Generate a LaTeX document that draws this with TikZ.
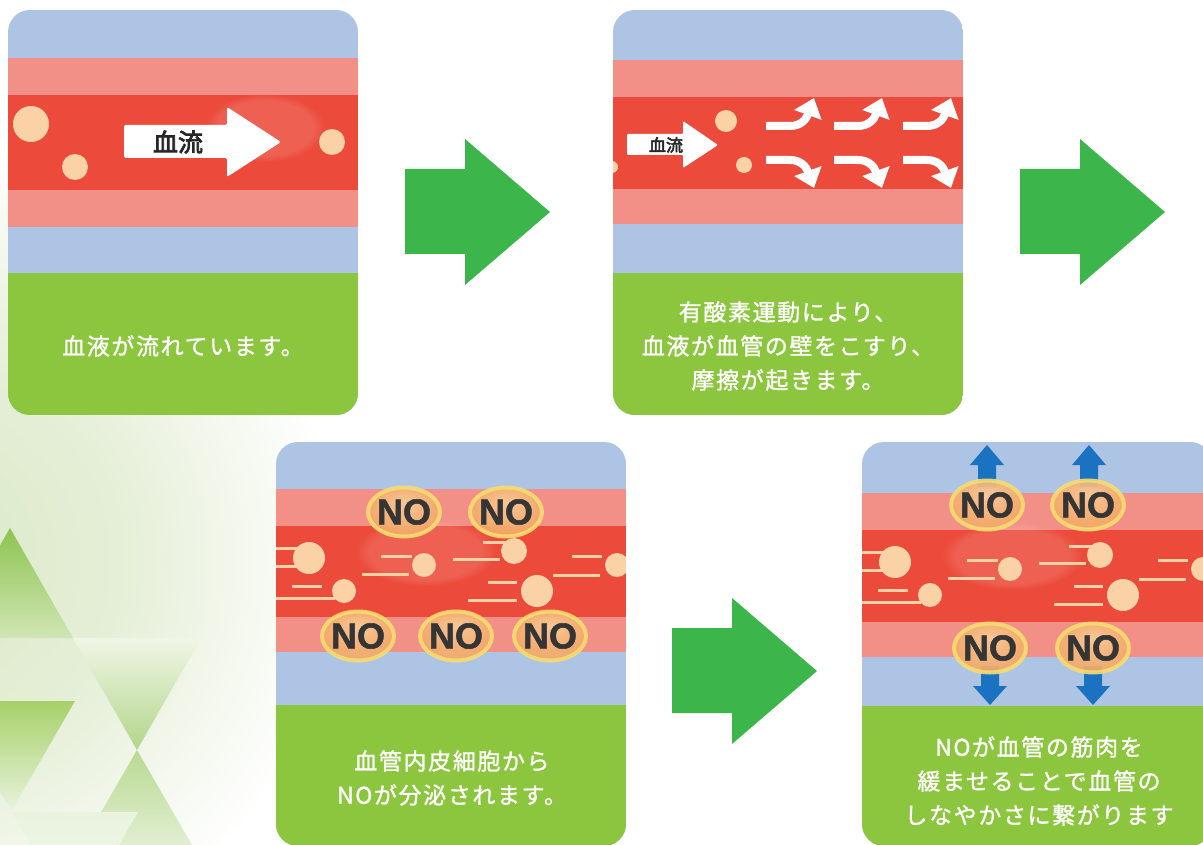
\documentclass[tikz,border=0pt]{standalone}
\usepackage{fontspec}
\usetikzlibrary{shapes.geometric,arrows.meta,fadings}
\newfontfamily\jpfont{Noto Sans CJK JP}[FakeBold=1.2, LetterSpace=7]
\newfontfamily\jpboldfont{Noto Sans CJK JP}[FakeBold=3]
\newfontfamily\labelfont{Liberation Sans}[FakeBold=1.5]

\definecolor{vesselblue}{HTML}{AEC4E4}
\definecolor{wallred}{HTML}{F2877E}
\definecolor{bloodred}{HTML}{EC4B3B}
\definecolor{panelgreen}{HTML}{8CC63F}
\definecolor{cellpeach}{HTML}{FBD2A6}
\definecolor{arrowgreen}{HTML}{3CB54A}
\definecolor{pushblue}{HTML}{1B72C0}
\definecolor{notext}{HTML}{353535}
\definecolor{norim}{HTML}{F6DC72}
\definecolor{nolight}{HTML}{F9CC9A}
\definecolor{nomid}{HTML}{F4AE6E}
\definecolor{nodark}{HTML}{EF9A55}
\definecolor{glowgreen}{HTML}{DAE8C6}

\pgfdeclareradialshading{leftglow}{\pgfpoint{0bp}{0bp}}{color(0bp)=(glowgreen); color(12bp)=(glowgreen!70!white); color(25bp)=(white); color(50bp)=(white)}
\pgfdeclareradialshading{noglow}{\pgfpoint{0bp}{10bp}}{color(0bp)=(nolight); color(22bp)=(nomid); color(50bp)=(nodark)}

% vessel panel: x0 y0 x1 y1, then the y of the five band boundaries
\newcommand\panelbase[9]{%
  \begin{scope}
    \clip[rounded corners=22pt] (#1,#2) rectangle (#3,#4);
    \fill[vesselblue] (#1,#2) rectangle (#3,#4);
    \fill[wallred] (#1,#5) rectangle (#3,#8);
    \fill[bloodred] (#1,#6) rectangle (#3,#7);
    \fill[white, opacity=0.07] (#1,#5) rectangle (#3,#6);
    \fill[white, opacity=0.07] (#1,#7) rectangle (#3,#8);
    \fill[panelgreen] (#1,#9) rectangle (#3,#4);
  \end{scope}}

% moving blood cells with speed lines, relative to a panel corner
\newcommand\flowcells[2]{%
  \begin{scope}[shift={(#1,#2)}]
    \fill[white, fill opacity=0.12, path fading=circle with fuzzy edge 20 percent]
      (150,110) ellipse[x radius=70pt, y radius=34pt];
    \foreach \ya/\xa/\xb in {106/0/24, 124/0/24, 144/16/46, 156/0/59,
        114/105/136, 132/86/133, 100/207/231, 117/177/224,
        140/212/241, 158/192/241, 114/296/326, 133/277/324}
      \draw[speedline] (\xa,\ya) -- (\xb,\ya);
    \foreach \cx/\cy/\cr in {33/116/16, 68/149/12, 148/123/12,
        238/109/13, 261/149/16, 341/123/12}
      \fill[cellpeach] (\cx,\cy) circle[radius=\cr pt];
  \end{scope}}

\begin{document}
\begin{tikzpicture}[x=1pt,y=-1pt,
  caption/.style={font=\jpfont\fontsize{23}{34}\selectfont, text=white, align=center, inner sep=0pt},
  flowtag/.style={font=\jpboldfont\fontsize{#1}{#1}\selectfont, text=black!85, inner sep=0pt},
  speedline/.style={cellpeach, line width=3pt},
  flowturn/.style={white, line width=8pt, -{Triangle[length=18pt,width=28pt]}},
  noblob/.style={ellipse, minimum width=72pt, minimum height=49pt, inner sep=0pt,
    draw=norim, line width=4pt, draw opacity=0.9, shade, shading=noglow, fill opacity=0.93},
  notag/.style={inner sep=0pt, font=\labelfont\bfseries\fontsize{36}{36}\selectfont, text=notext},
  bigarrow/.pic={\fill[arrowgreen] (0,30) -- (60,30) -- (60,0) -- (145,73) -- (60,146)
      -- (60,115) -- (0,115) -- cycle;},
  pushup/.pic={\fill[pushblue] (-9,42) -- (-9,20) -- (-17,20) -- (0,0) -- (17,20)
      -- (9,20) -- (9,42) -- cycle;},
  pushdown/.pic={\fill[pushblue] (-9,-4) -- (-9,16) -- (-17,16) -- (0,35) -- (17,16)
      -- (9,16) -- (9,-4) -- cycle;}
]
\useasboundingbox (0,0) rectangle (1203,845);
\clip (0,0) rectangle (1203,845);
\fill[white] (0,0) rectangle (1203,845);

% soft green glow and triangle pattern at the lower left
\shade[shading=leftglow] (-80,560) circle[radius=420pt];
\shade[top color={rgb,255:red,141;green,196;blue,80}, bottom color={rgb,255:red,208;green,229;blue,180}]
  (10,528) -- (73,638) -- (-53,638) -- cycle;
\shade[top color={rgb,255:red,240;green,246;blue,230}, bottom color={rgb,255:red,179;green,213;blue,138}]
  (73,638) -- (201,638) -- (137,750) -- cycle;
\shade[top color={rgb,255:red,166;green,209;blue,104}, bottom color={rgb,255:red,232;green,242;blue,220}]
  (-60,701) -- (75,701) -- (12,810) -- cycle;
\shade[top color={rgb,255:red,185;green,218;blue,146}, bottom color={rgb,255:red,225;green,238;blue,209}]
  (137,750) -- (192,845) -- (82,845) -- cycle;
\shade[top color={rgb,255:red,233;green,243;blue,222}, bottom color={rgb,255:red,245;green,250;blue,239}]
  (12,812) -- (138,812) -- (75,921) -- cycle;

% panel 1: blood flow
\panelbase{8}{10}{358}{415}{58}{95}{190}{227}{273}
\begin{scope}
  \clip[rounded corners=22pt] (8,10) rectangle (358,415);
  \fill[white, fill opacity=0.12, path fading=circle with fuzzy edge 20 percent]
    (265,128) ellipse[x radius=60pt, y radius=34pt];
  \foreach \cx/\cy/\cr in {31/124/18, 75/167/13, 332/142/13}
    \fill[cellpeach] (\cx,\cy) circle[radius=\cr pt];
  \fill[white, rounded corners=1.5pt] (124,125) -- (227,125) -- (227,107) -- (281,142)
    -- (227,177) -- (227,158) -- (124,158) -- cycle;
\end{scope}
\node[flowtag=25] (flow1) at (178,142) {血流};
\node[caption] (text1) at (183,346) {血液が流れています。};

% panel 2: friction on the vessel wall
\panelbase{613}{10}{963}{415}{60}{97}{189}{224}{273}
\begin{scope}
  \clip[rounded corners=22pt] (613,10) rectangle (963,415);
  \foreach \cx/\cy/\cr in {726/121/11, 744/165/8, 612/167/6}
    \fill[cellpeach] (\cx,\cy) circle[radius=\cr pt];
  \fill[white, rounded corners=1pt] (627,134) -- (683,134) -- (683,121) -- (718,145)
    -- (683,168) -- (683,155) -- (627,155) -- cycle;
  \foreach \x in {766,834,903} {
    \draw[flowturn] (\x,126) -- (\x+24,126) .. controls (\x+34,126) and (\x+40,120) .. (\x+48,98);
    \draw[flowturn] (\x,160) -- (\x+24,160) .. controls (\x+34,160) and (\x+40,166) .. (\x+48,188);
  }
\end{scope}
\node[flowtag=17] (flow2) at (666,145) {血流};
\node[caption] (text2) at (788,346) {有酸素運動により、\\血液が血管の壁をこすり、\\摩擦が起きます。};

% panel 3: NO released from the endothelium
\panelbase{276}{442}{626}{846}{489}{526}{617}{652}{705}
\begin{scope}
  \clip[rounded corners=22pt] (276,442) rectangle (626,846);
  \flowcells{276}{442}
\end{scope}
\foreach \nx/\ny [count=\i] in {404/512, 506/512, 358/636, 456/636, 550/636} {
  \node[noblob] (blobA\i) at (\nx,\ny) {};
  \node[notag] (noA\i) at (blobA\i) {NO};
}
\node[caption] (text3) at (452,778) {血管内皮細胞から\\NOが分泌されます。};

% panel 4: NO relaxes the vessel muscle
\panelbase{862}{442}{1212}{846}{493}{530}{622}{657}{706}
\begin{scope}
  \clip[rounded corners=22pt] (862,442) rectangle (1212,846);
  \flowcells{862}{446}
  \pic at (987,445) {pushup};
  \pic at (1089,445) {pushup};
  \pic at (990,670) {pushdown};
  \pic at (1093,670) {pushdown};
\end{scope}
\foreach \nx/\ny [count=\i] in {987/505, 1088/505, 990/648, 1093/648} {
  \node[noblob] (blobB\i) at (\nx,\ny) {};
  \node[notag] (noB\i) at (blobB\i) {NO};
}
\node[caption] (text4) at (1039,781) {NOが血管の筋肉を\\緩ませることで血管の\\しなやかさに繋がります};

% step arrows
\pic at (405,139) {bigarrow};
\pic at (1020,139) {bigarrow};
\pic at (672,598) {bigarrow};
\end{tikzpicture}
\end{document}
